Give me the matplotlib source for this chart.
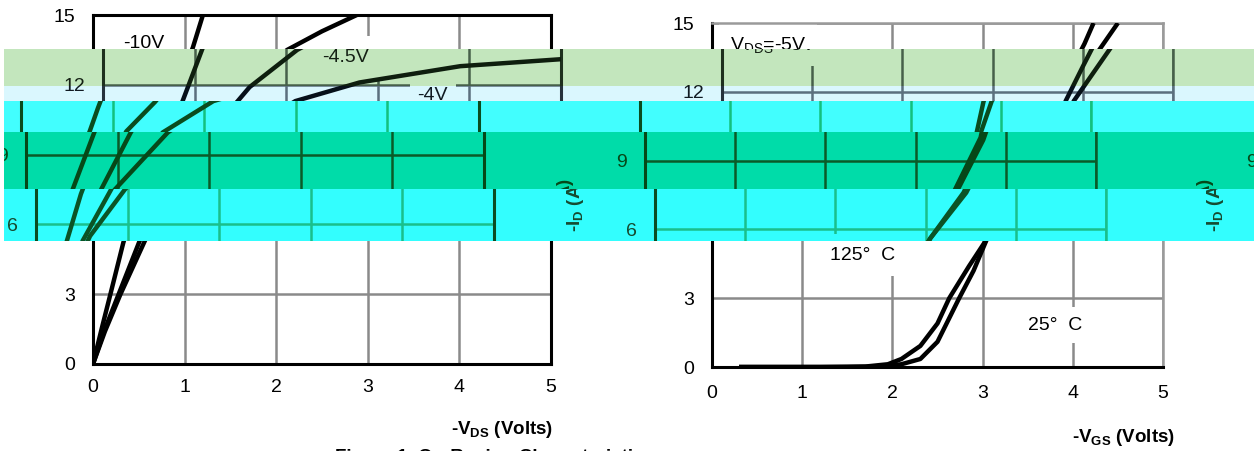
import matplotlib
matplotlib.use("Agg")
import matplotlib.pyplot as plt
from matplotlib.patches import Polygon, Rectangle
from matplotlib.text import Text
from matplotlib.transforms import Bbox, TransformedBbox

plt.rcParams.update({
    "font.family": ["Liberation Sans", "DejaVu Sans"],
    "mathtext.fontset": "custom",
    "mathtext.rm": "Liberation Sans",
    "mathtext.bf": "Liberation Sans:bold",
    "mathtext.it": "Liberation Sans:italic",
    "axes.unicode_minus": False,
})

W, H, DPI = 1258, 451, 100

# ---- Figure 1: on-region characteristics (-V_DS vs -I_D) ----
vds_10v = [0.0, 0.10, 0.19, 0.33, 0.49, 0.75, 0.84, 1.09, 1.20]
id_10v = [0.0, 1.6, 3.0, 5.2, 7.3, 10.0, 11.0, 13.6, 15.0]

vds_45v = [0.0, 0.12, 0.28, 0.51, 0.82, 1.15, 1.46, 1.60, 2.12, 2.50, 2.88]
id_45v = [0.0, 1.4, 3.0, 5.3, 7.5, 10.0, 11.25, 11.9, 13.5, 14.3, 15.0]

vds_4v = [0.0, 0.13, 0.30, 0.59, 0.97, 1.55, 2.10, 2.80, 3.90, 5.00]
id_4v = [0.0, 1.4, 3.0, 5.5, 7.5, 9.96, 11.3, 12.1, 12.8, 13.1]

# ---- Figure 2: transfer characteristics (-V_GS vs -I_D), V_DS = -5V ----
vgs_25c = [0.3, 1.5, 1.9, 2.1, 2.31, 2.5, 2.74, 2.9, 3.05, 3.42, 3.72, 3.81, 4.0, 4.13, 4.23]
id_25c = [0.0, 0.0, 0.02, 0.12, 0.35, 1.1, 3.0, 4.2, 5.6, 7.6, 10.0, 11.6, 13.1, 14.1, 15.0]

vgs_125c = [0.3, 1.2, 1.7, 1.95, 2.1, 2.31, 2.5, 2.63, 2.85, 3.05, 3.45, 3.75, 3.9, 4.2, 4.5]
id_125c = [0.0, 0.0, 0.02, 0.12, 0.35, 0.92, 1.9, 3.0, 4.4, 5.6, 7.6, 9.9, 11.6, 13.3, 15.0]

volt_ticks = [0, 1, 2, 3, 4, 5]
amp_ticks = [0, 3, 6, 9, 12, 15]

gate_labels = ["-10V", "-4.5V", "-4V"]
temp_labels = ["25°  C", "125°  C"]

PAL_BASE = dict(bg="white", curve="black", grid="#8a8a8a", frame="black",
                frame2="#9a9a9a", text="black")
PAL_GREEN = dict(bg="#c3e6bd", curve="#0e1e0e", grid="#46604a", frame="#1e301e",
                 frame2="#46604a", text="#142014")
PAL_ICE = dict(bg="#daf7fe", curve="#06101a", grid="#5b6f7e", frame="#25323c",
               frame2="#5b6f7e", text="#101a22")
PAL_AQUA = dict(bg="#42fefe", curve="#0a4c1e", grid="#14c07e", frame="#0a4c1e",
                frame2="#14c07e", text="#0c3e20")
PAL_TEAL = dict(bg="#00dca9", curve="#064818", grid="#0b5a28", frame="#064818",
                frame2="#0b5a28", text="#064818")
PAL_CYAN = dict(bg="#33fefe", curve="#0b5426", grid="#1abf8b", frame="#0b4c22",
                frame2="#1abf8b", text="#164a30")

# horizontal strips: (top px, bottom px, horizontal offset px, palette)
strips = [
    (49, 86, 10, PAL_GREEN),
    (86, 101, 10, PAL_ICE),
    (101, 132, -72, PAL_AQUA),
    (132, 189, -67, PAL_TEAL),
    (189, 241, -57, PAL_CYAN),
]
STRIP_X0, STRIP_X1 = 4, 1254

TICK_FS = 14
LABEL_FS = 14

fig = plt.figure(figsize=(W / DPI, H / DPI), dpi=DPI, facecolor="white")


def fx(px):
    return px / W


def fy(py):
    return 1 - py / H


def px_rect(x0, y0, x1, y1, dx):
    return [fx(x0 + dx), fy(y1), (x1 - x0) / W, (y1 - y0) / H]


def style_axes(ax, pal, xpad, ypad, full_frame):
    ax.set_xlim(0, 5)
    ax.set_ylim(0, 15)
    ax.set_xticks(volt_ticks)
    ax.set_yticks(amp_ticks)
    ax.set_xticklabels([str(t) for t in volt_ticks])
    ax.set_yticklabels([str(t) for t in amp_ticks])
    ax.patch.set_facecolor("none")
    ax.set_axisbelow(True)
    ax.grid(True, color=pal["grid"], lw=1.8)
    ax.tick_params(axis="both", length=0, labelsize=TICK_FS, labelcolor=pal["text"])
    ax.tick_params(axis="x", pad=xpad)
    ax.tick_params(axis="y", pad=ypad)
    for side in ("left", "bottom"):
        ax.spines[side].set_color(pal["frame"])
        ax.spines[side].set_linewidth(2.2)
    for side in ("top", "right"):
        ax.spines[side].set_color(pal["frame"] if full_frame else pal["frame2"])
        ax.spines[side].set_linewidth(2.2 if full_frame else 1.8)


def boxed(ax, x, y, s, pal, pad, ha="center", size=LABEL_FS):
    ax.text(x, y, s, ha=ha, va="center", fontsize=size, color=pal["text"], zorder=2.5,
            bbox=dict(boxstyle=f"square,pad={pad}", fc=pal["bg"], ec="none"))


def draw_scene(dx, pal, z, tag):
    ax1 = fig.add_axes(px_rect(93, 15, 551, 364, dx), label=f"out{tag}")
    ax2 = fig.add_axes(px_rect(712, 23, 1163, 367, dx), label=f"xfer{tag}")
    ax3 = fig.add_axes(px_rect(1342, 23, 1793, 367, dx), label=f"next{tag}")
    style_axes(ax1, pal, 11, 13, True)
    style_axes(ax2, pal, 12.8, 13, False)
    style_axes(ax3, pal, 12.8, 13, False)
    for ax in (ax1, ax2, ax3):
        ax.set_zorder(z)

    # output characteristics
    for v, i in ((vds_10v, id_10v), (vds_45v, id_45v), (vds_4v, id_4v)):
        ax1.plot(v, i, color=pal["curve"], lw=3.2, solid_capstyle="butt", zorder=3)
    boxed(ax1, 0.55, 13.77, gate_labels[0], pal, 0.3)
    boxed(ax1, 2.65, 13.17, gate_labels[1], pal, 0.65)
    boxed(ax1, 3.6, 11.54, gate_labels[2], pal, 0.4)

    # transfer characteristics
    for v, i in ((vgs_25c, id_25c), (vgs_125c, id_125c)):
        ax2.plot(v, i, color=pal["curve"], lw=3.2, solid_capstyle="butt", zorder=3)
    boxed(ax2, 0.2, 14.04, r"V$_{\mathrm{DS}}$=-5V", pal, 0.55, ha="left", size=14)
    boxed(ax2, 1.67, 4.88, temp_labels[1], pal, 0.65)
    boxed(ax2, 3.8, 1.83, temp_labels[0], pal, 0.5)

    ylab = r"-I$_{\mathbf{D}}$ (A)"
    for ax, w, hgt, bottom, off in ((ax1, 458, 349, 364, -79), (ax2, 451, 344, 367, -79),
                                    (ax3, 451, 344, 367, -70)):
        ax.text(off / w, (bottom - 205) / hgt, ylab, transform=ax.transAxes,
                rotation=90, ha="center", va="center", fontsize=13.5,
                fontweight="bold", color=pal["text"])

    ax1.text((553 - 93) / 458, (364 - 430) / 349, r"-V$_{\mathbf{DS}}$ (Volts)",
             transform=ax1.transAxes, ha="right", va="center", fontsize=13.5,
             fontweight="bold", color=pal["text"])
    ax2.text((1175 - 712) / 451, (367 - 438) / 344, r"-V$_{\mathbf{GS}}$ (Volts)",
             transform=ax2.transAxes, ha="right", va="center", fontsize=13.5,
             fontweight="bold", color=pal["text"])
    ax1.text((335 - 93) / 458, (364 - 449) / 349,
             "Figure 1. On-Region Characteristics", transform=ax1.transAxes,
             ha="left", va="top", fontsize=13.5, fontweight="bold", color=pal["text"])
    return [ax1, ax2, ax3]


draw_scene(0, PAL_BASE, 0, "base")

strip_layers = []
for k, (y0, y1, dx, pal) in enumerate(strips):
    zr = 2 * k + 1
    fig.add_artist(Rectangle((fx(STRIP_X0), fy(y1)), (STRIP_X1 - STRIP_X0) / W,
                             (y1 - y0) / H, transform=fig.transFigure,
                             facecolor=pal["bg"], edgecolor="none", zorder=zr))
    axes = draw_scene(dx, pal, zr + 1, f"s{k}")
    clip_path = Polygon([[fx(STRIP_X0), fy(y0)], [fx(STRIP_X1), fy(y0)],
                         [fx(STRIP_X1), fy(y1)], [fx(STRIP_X0), fy(y1)]],
                        closed=True, transform=fig.transFigure)
    clip_box = TransformedBbox(Bbox([[fx(STRIP_X0), fy(y1)], [fx(STRIP_X1), fy(y0)]]),
                               fig.transFigure)
    strip_layers.append((axes, clip_path, clip_box))

fig.canvas.draw()
for axes, clip_path, clip_box in strip_layers:
    for ax in axes:
        for art in ax.findobj():
            if art is ax:
                continue
            art.set_clip_on(True)
            if isinstance(art, Text):
                art.set_clip_box(clip_box)
            else:
                art.set_clip_path(clip_path)

fig.savefig("out.png", dpi=DPI, facecolor="white")
